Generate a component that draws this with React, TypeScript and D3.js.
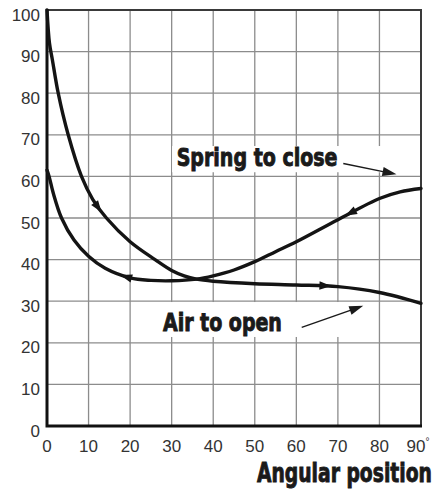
import React, { useEffect, useRef } from "react";
import * as d3 from "d3";

// angle (deg) vs. torque (%)
const xTicks = [0, 10, 20, 30, 40, 50, 60, 70, 80, 90];
const yTicks = [0, 10, 20, 30, 40, 50, 60, 70, 80, 90, 100];

const airAngle = [0, 0.6, 1.3, 2.7, 5.1, 8.3, 11, 14.3, 20, 26, 30, 33, 36, 40, 50, 60, 70, 80, 90];
const airTorque = [100, 92, 88, 80, 70, 60, 54.5, 50, 44.3, 40, 37.4, 36.1, 35.3, 34.8, 34.2, 33.9, 33.5, 32.1, 29.5];

const springAngle = [0, 0.5, 1.5, 3.5, 6.5, 10, 14, 20, 25, 30, 36, 40, 45, 50, 55, 60, 70, 80, 85, 90];
const springTorque = [61.5, 60, 56, 50, 44.7, 40.8, 37.9, 35.6, 35, 34.9, 35.3, 36.1, 37.5, 39.5, 41.9, 44.3, 49.6, 54.7, 56.3, 57.1];

// where the little direction arrows sit on each curve (deg)
const airArrows = [12.3, 67];
const springArrows = [73, 19];

// annotation positions in data units
const springLabel = { text: "Spring to close", x: 31.2, y: 62.4, size: 25, width: 161 };
const springBox = [30.1, 83.7, 67.3, 61];
const springPointer = [71.3, 63.1, 84.1, 60.5];
const airLabel = { text: "Air to open", x: 27.9, y: 22.8, size: 24, width: 119 };
const airBox = [26.7, 78.2, 29.8, 21.4];
const airPointer = [61.3, 23.7, 76.1, 28.9];

const W = 437;
const H = 492;
const boldFont = "'Liberation Sans Narrow', 'Arial Narrow', 'DejaVu Sans Condensed', 'Liberation Sans', sans-serif";
const tickFont = "'Liberation Sans', Arial, Helvetica, sans-serif";

export default function App() {
  const ref = useRef<SVGSVGElement>(null);

  useEffect(() => {
    const svg = d3.select(ref.current);
    svg.selectAll("*").remove();

    const x = d3.scaleLinear().domain([0, 90]).range([47, 421]);
    const y = d3.scaleLinear().domain([0, 100]).range([426, 10]);

    svg.append("rect").attr("width", W).attr("height", H).attr("fill", "#fff");

    // grid
    const grid = svg.append("g").attr("stroke", "#8c8c8c").attr("stroke-width", 1.3);
    grid
      .selectAll("line.v")
      .data(xTicks.slice(1, -1))
      .enter()
      .append("line")
      .attr("x1", (d) => x(d))
      .attr("x2", (d) => x(d))
      .attr("y1", y(100))
      .attr("y2", y(0));
    grid
      .selectAll("line.h")
      .data(yTicks.slice(1, -1))
      .enter()
      .append("line")
      .attr("x1", x(0))
      .attr("x2", x(90))
      .attr("y1", (d) => y(d))
      .attr("y2", (d) => y(d));

    // white boxes behind the labels
    [springBox, airBox].forEach((b) => {
      svg
        .append("rect")
        .attr("x", x(b[0]))
        .attr("y", y(b[2]))
        .attr("width", x(b[1]) - x(b[0]))
        .attr("height", y(b[3]) - y(b[2]))
        .attr("fill", "#fff");
    });

    // frame
    svg
      .append("path")
      .attr("d", `M${x(0)},${y(100)}H${x(90)}V${y(0)}`)
      .attr("fill", "none")
      .attr("stroke", "#3a3a3a")
      .attr("stroke-width", 2);
    svg
      .append("path")
      .attr("d", `M${x(0)},${y(100) - 1}V${y(0)}H${x(90) + 1}`)
      .attr("fill", "none")
      .attr("stroke", "#111")
      .attr("stroke-width", 3);

    // tick labels
    svg
      .append("g")
      .attr("font-family", tickFont)
      .attr("font-size", 17)
      .attr("fill", "#333")
      .attr("text-anchor", "end")
      .selectAll("text")
      .data(yTicks)
      .enter()
      .append("text")
      .attr("x", 40)
      .attr("y", (d) => y(d) + 10.5)
      .text((d) => d);

    const xl = svg
      .append("g")
      .attr("font-family", tickFont)
      .attr("font-size", 17)
      .attr("fill", "#333")
      .attr("text-anchor", "middle")
      .selectAll("text")
      .data(xTicks)
      .enter()
      .append("text")
      .attr("x", (d) => x(d) + (d === 90 ? -3 : 0))
      .attr("y", 451.5);
    xl.append("tspan").text((d) => d);
    xl.filter((d) => d === 90)
      .append("tspan")
      .attr("font-size", 10)
      .attr("dy", -7)
      .text("°");

    // curves
    const line = d3
      .line<number[]>()
      .x((d) => x(d[0]))
      .y((d) => y(d[1]))
      .curve(d3.curveCatmullRom.alpha(0.5));

    const curves = [
      { pts: airAngle.map((a, i) => [a, airTorque[i]]), arrows: airArrows, dir: 1 },
      { pts: springAngle.map((a, i) => [a, springTorque[i]]), arrows: springArrows, dir: -1 },
    ];

    curves.forEach((c) => {
      const p = svg
        .append("path")
        .attr("d", line(c.pts))
        .attr("fill", "none")
        .attr("stroke", "#141414")
        .attr("stroke-width", 3.4)
        .attr("stroke-linecap", "round");
      const node = p.node() as SVGPathElement;
      const total = node.getTotalLength();
      c.arrows.forEach((deg) => {
        const tx = x(deg);
        let lo = 0;
        let hi = total;
        for (let k = 0; k < 40; k++) {
          const mid = (lo + hi) / 2;
          if (node.getPointAtLength(mid).x < tx) lo = mid;
          else hi = mid;
        }
        const pt = node.getPointAtLength(lo);
        const a = node.getPointAtLength(Math.max(0, lo - 3));
        const b = node.getPointAtLength(Math.min(total, lo + 3));
        const ang = (Math.atan2(b.y - a.y, b.x - a.x) * 180) / Math.PI + (c.dir < 0 ? 180 : 0);
        svg
          .append("path")
          .attr("d", "M6,0L-6,-4.2L-6,4.2Z")
          .attr("fill", "#141414")
          .attr("transform", `translate(${pt.x},${pt.y}) rotate(${ang})`);
      });
    });

    // heavy condensed text: draw, measure, then squeeze to the wanted width
    const boldText = (tx: number, ty: number, size: number, width: number, str: string) => {
      const t = svg
        .append("text")
        .attr("font-family", boldFont)
        .attr("font-weight", 700)
        .attr("font-size", size)
        .attr("fill", "#1a1a1a")
        .attr("stroke", "#1a1a1a")
        .attr("stroke-width", 0.9)
        .text(str);
      const w = (t.node() as SVGTextElement).getComputedTextLength() || width;
      t.attr("transform", `translate(${tx},${ty}) scale(${width / w},1)`);
    };

    // labels with pointers
    [
      [springLabel, springPointer],
      [airLabel, airPointer],
    ].forEach(([lab, ptr]: any) => {
      boldText(x(lab.x), y(lab.y), lab.size, lab.width, lab.text);
      const x1 = x(ptr[0]);
      const y1 = y(ptr[1]);
      const x2 = x(ptr[2]);
      const y2 = y(ptr[3]);
      const ang = (Math.atan2(y2 - y1, x2 - x1) * 180) / Math.PI;
      const len = Math.hypot(x2 - x1, y2 - y1);
      const g = svg.append("g").attr("transform", `translate(${x1},${y1}) rotate(${ang})`);
      g.append("line")
        .attr("x1", 0)
        .attr("x2", len - 10)
        .attr("stroke", "#1a1a1a")
        .attr("stroke-width", 1.4);
      g.append("path")
        .attr("d", `M${len},0L${len - 14},-4.5L${len - 14},4.5Z`)
        .attr("fill", "#1a1a1a");
    });

    // axis title
    boldText(257, 482, 27, 175, "Angular position");
  }, []);

  return (
    <svg
      ref={ref}
      width={W}
      height={H}
      style={{ position: "absolute", left: 0, top: 0 }}
    />
  );
}
